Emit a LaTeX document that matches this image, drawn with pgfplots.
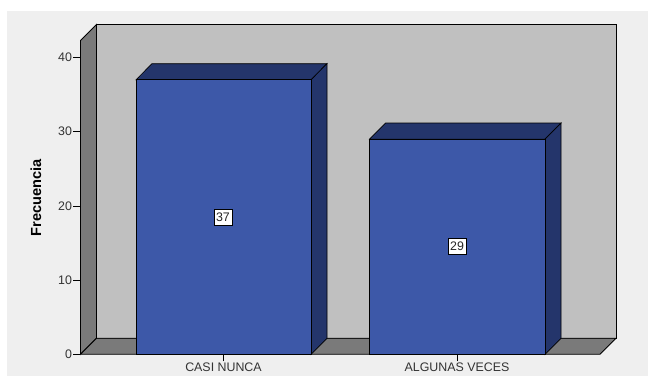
\documentclass[border=0pt]{standalone}
\usepackage{pgfplots}
\pgfplotsset{compat=1.18}
\usepackage{fontspec}
\setmainfont{Liberation Sans}
\definecolor{panel}{HTML}{EFEFEF}
\definecolor{wall}{HTML}{C0C0C0}
\definecolor{side}{HTML}{7A7A7A}
\definecolor{barfront}{HTML}{3D58A8}
\definecolor{bardark}{HTML}{24356B}
\begin{document}
\begin{tikzpicture}[x=1pt,y=1pt]
% page and chart panel, in units of one point from the lower left corner
\path[fill=white,use as bounding box] (0,0) rectangle (648,376);
\fill[panel] (7,0) rectangle (648,365);
\begin{axis}[
  at={(80.5pt,21.7pt)},anchor=origin,
  scale only axis,
  x=1pt,y=7.42pt,
  xmin=80.5,xmax=616,ymin=0,ymax=44.5,
  clip=false,
  axis lines=left,
  axis line style={draw=none,-},
  tick align=outside,
  major tick length=7pt,
  tick style={black,line width=0.8pt},
  xtick={223.5,457},
  xticklabels={CASI NUNCA,ALGUNAS VECES},
  ytick={0,10,20,30,40},
  tick label style={font=\fontsize{12.4}{14}\selectfont,text=black!80},
  /pgf/number format/assume math mode=true,
  xticklabel style={yshift=1.5pt},
  yticklabel style={xshift=2pt},
  ylabel={\textbf{Frecuencia}},
  every axis y label/.style={at={(axis cs:36,21.1)},rotate=90,anchor=center,
    font=\fontsize{14.6}{17}\selectfont},
  line join=miter,
]
% back wall, left wall and floor
\addplot[fill=wall,draw=black,line width=0.8pt] coordinates {(96.5,2.16)(616,2.16)(616,44.45)(96.5,44.45)} -- cycle;
\addplot[fill=side,draw=black,line width=0.8pt] coordinates {(80.5,0)(96.5,2.16)(96.5,44.45)(80.5,42.29)} -- cycle;
\addplot[fill=side,draw=black,line width=0.8pt] coordinates {(80.5,0)(600,0)(616,2.16)(96.5,2.16)} -- cycle;
% first bar: top, side, front
\addplot[fill=bardark,draw=black,line width=0.7pt] coordinates {(136,37)(311,37)(327,39.16)(152,39.16)} -- cycle;
\addplot[fill=bardark,draw=black,line width=0.7pt] coordinates {(311,0)(327,2.16)(327,39.16)(311,37)} -- cycle;
\addplot[fill=barfront,draw=black,line width=0.8pt] coordinates {(136,0)(311,0)(311,37)(136,37)} -- cycle;
% second bar: top, side, front
\addplot[fill=bardark,draw=black,line width=0.7pt] coordinates {(369.5,29)(545,29)(561,31.16)(385.5,31.16)} -- cycle;
\addplot[fill=bardark,draw=black,line width=0.7pt] coordinates {(545,0)(561,2.16)(561,31.16)(545,29)} -- cycle;
\addplot[fill=barfront,draw=black,line width=0.8pt] coordinates {(369.5,0)(545,0)(545,29)(369.5,29)} -- cycle;
% value labels at half the bar height
\addplot[draw=none,mark=none,
  nodes near coords,point meta=explicit,
  nodes near coords align={center},
  every node near coord/.append style={fill=white,draw=black,line width=0.8pt,
    font=\fontsize{12.4}{14}\selectfont,text=black!85,inner sep=0pt,
    minimum width=18pt,minimum height=16pt}]
  coordinates {(223,18.5)[37] (457,14.5)[29]};
\end{axis}
\end{tikzpicture}
\end{document}
